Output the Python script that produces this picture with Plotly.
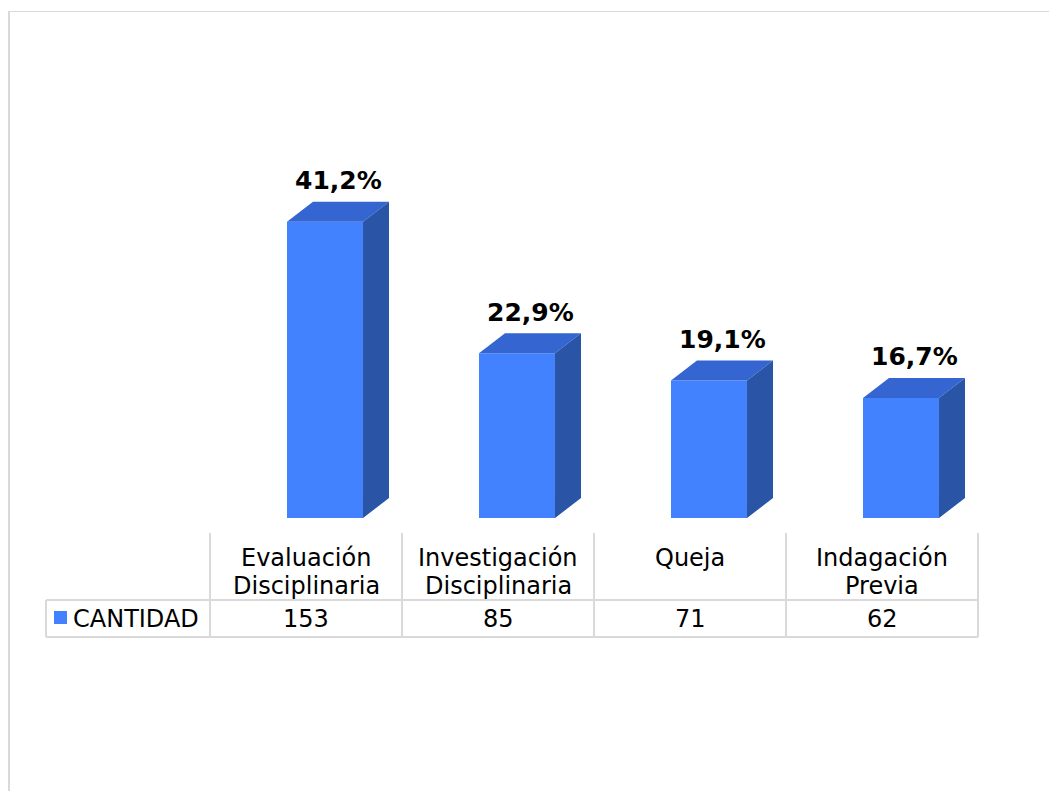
import plotly.graph_objects as go

categories = ["Evaluación<br>Disciplinaria", "Investigación<br>Disciplinaria", "Queja", "Indagación<br>Previa"]
cantidad = [153, 85, 71, 62]
porcentajes = ["41,2%", "22,9%", "19,1%", "16,7%"]
series_name = "CANTIDAD"

FRONT = "#4282FF"
TOP = "#3465D0"
SIDE = "#2A54A6"
GRID = "#D9D9D9"
FONT = "Verdana, DejaVu Sans, sans-serif"

OFF = 8  # page body margin
W, H = 1057 - OFF, 791 - OFF
L, R, T, B = 210, 978, 150, 518   # plot area in page pixels
YMAX = 190


def px(x):
    return (x - L) / (R - L)


def py(y):
    return (B - y) / (B - T)


x_pos = list(range(len(cantidad)))
bar_w = 0.396
bar_off = -0.099
dx = 26 / (R - L) * len(cantidad)  # depth offset in x units
dy = 20 / (B - T) * YMAX           # depth offset in y units

fig = go.Figure()

# front faces
fig.add_trace(go.Bar(x=x_pos, y=cantidad, width=bar_w, offset=bar_off,
                     marker=dict(color=FRONT, line=dict(width=0)),
                     hoverinfo="skip", showlegend=False))

# top and side faces of each 3D column
for i, v in enumerate(cantidad):
    x0 = i + bar_off
    x1 = x0 + bar_w
    fig.add_trace(go.Scatter(x=[x0, x1, x1 + dx, x0 + dx, x0], y=[v, v, v + dy, v + dy, v],
                             fill="toself", fillcolor=TOP, mode="lines", line=dict(width=0),
                             hoverinfo="skip", showlegend=False))
    fig.add_trace(go.Scatter(x=[x1, x1, x1 + dx, x1 + dx, x1], y=[0, v, v + dy, dy, 0],
                             fill="toself", fillcolor=SIDE, mode="lines", line=dict(width=0),
                             hoverinfo="skip", showlegend=False))
    # percentage label
    fig.add_annotation(x=i + bar_off + bar_w / 2 + 0.07, y=v, yshift=41, text="<b>%s</b>" % porcentajes[i],
                       showarrow=False, font=dict(family=FONT, size=25, color="black"),
                       xanchor="center", yanchor="middle")

shapes = []
# outer chart border (left and top edges visible)
shapes.append(dict(type="line", xref="paper", yref="paper", x0=px(9), x1=px(9), y0=py(11), y1=py(800),
                   line=dict(color=GRID, width=2)))
shapes.append(dict(type="line", xref="paper", yref="paper", x0=px(8), x1=px(1070), y0=py(11.5), y1=py(11.5),
                   line=dict(color=GRID, width=1.2)))
# data table grid
col_edges = [L + k * (R - L) / len(cantidad) for k in range(len(cantidad) + 1)]
for xe in col_edges:
    shapes.append(dict(type="line", xref="paper", yref="paper", x0=px(xe), x1=px(xe), y0=py(533), y1=py(637),
                       line=dict(color=GRID, width=2)))
shapes.append(dict(type="line", xref="paper", yref="paper", x0=px(46), x1=px(46), y0=py(600), y1=py(637),
                   line=dict(color=GRID, width=2)))
for yl in [600, 637]:
    shapes.append(dict(type="line", xref="paper", yref="paper", x0=px(46), x1=px(R), y0=py(yl), y1=py(yl),
                       line=dict(color=GRID, width=2)))
# legend key
shapes.append(dict(type="rect", xref="paper", yref="paper", x0=px(54), x1=px(67), y0=py(611), y1=py(624),
                   fillcolor=FRONT, line=dict(width=0)))

for i, cat in enumerate(categories):
    cx = (col_edges[i] + col_edges[i + 1]) / 2
    for j, line in enumerate(cat.split("<br>")):
        fig.add_annotation(xref="paper", yref="paper", x=px(cx), y=py(558 + 28 * j), text=line,
                           showarrow=False, font=dict(family=FONT, size=24, color="black"),
                           xanchor="center", yanchor="middle")
    fig.add_annotation(xref="paper", yref="paper", x=px(cx), y=py(619), text=str(cantidad[i]), showarrow=False,
                       font=dict(family=FONT, size=24, color="black"), xanchor="center", yanchor="middle")

fig.add_annotation(xref="paper", yref="paper", x=px(71), y=py(619), text=series_name, showarrow=False,
                   font=dict(family=FONT, size=24, color="black"), xanchor="left", yanchor="middle")

fig.update_layout(
    width=W, height=H,
    margin=dict(l=L - OFF, r=W - (R - OFF), t=T - OFF, b=H - (B - OFF), pad=0),
    paper_bgcolor="white", plot_bgcolor="white",
    xaxis=dict(range=[-0.5, len(cantidad) - 0.5], visible=False, fixedrange=True),
    yaxis=dict(range=[0, YMAX], visible=False, fixedrange=True),
    shapes=shapes,
    showlegend=False,
)

fig.write_html("out.html")
